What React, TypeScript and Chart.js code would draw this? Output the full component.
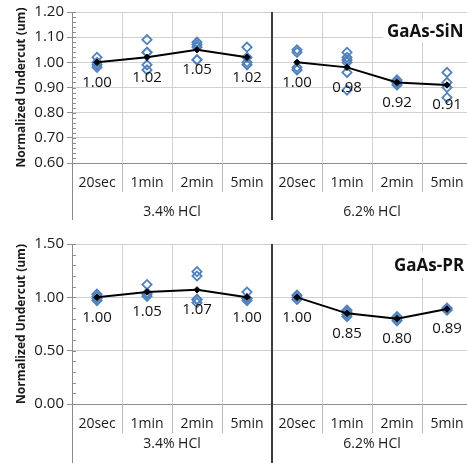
import React, { useEffect, useRef } from 'react';
import { Chart, registerables } from 'chart.js';

Chart.register(...registerables);

const timeLabels = ['20sec', '1min', '2min', '5min', '20sec', '1min', '2min', '5min'];
const groupLabels = ['3.4% HCl', '6.2% HCl'];

const sinTitle = 'GaAs-SiN';
const sinMeans = [1.0, 1.02, 1.05, 1.02, 1.0, 0.98, 0.92, 0.91];
const sinPoints = [
  [1.02, 1.0, 0.99, 0.98],
  [1.09, 1.04, 1.04, 0.99, 0.97],
  [1.08, 1.07, 1.06, 1.01, 1.01],
  [1.06, 1.02, 1.0, 0.99],
  [1.05, 1.04, 0.98, 0.97],
  [1.04, 1.02, 1.01, 1.0, 0.96, 0.89],
  [0.93, 0.92, 0.92, 0.91],
  [0.96, 0.92, 0.9, 0.86],
];
const sinAxis = [0.6, 1.2, 0.1, 0.02];

const prTitle = 'GaAs-PR';
const prMeans = [1.0, 1.05, 1.07, 1.0, 1.0, 0.85, 0.8, 0.89];
const prPoints = [
  [1.03, 1.01, 0.99, 0.97],
  [1.12, 1.04, 1.03, 1.01],
  [1.24, 1.2, 0.98, 0.95, 0.98],
  [1.05, 0.99, 0.97, 0.99],
  [1.02, 1.0, 0.98],
  [0.88, 0.86, 0.82, 0.84],
  [0.82, 0.8, 0.78],
  [0.9, 0.89, 0.88],
];
const prAxis = [0.0, 1.5, 0.5, 0.1];

const FONT = "'Open Sans', 'DejaVu Sans', sans-serif";
const BLUE = '#4f81bd';
const TEXT = '#1a1a1a';

type PanelCfg = {
  title: string;
  means: number[];
  points: number[][];
  axis: number[];
  height: number;
  areaTop: number;
  areaBottom: number;
  groupOffset: number;
  axisExtend: number;
  box: number[];
};

function buildDatasets(means: number[], points: number[][]) {
  const groupA = means.map((v, i) => (i < 4 ? v : null));
  const groupB = means.map((v, i) => (i >= 4 ? v : null));
  const meanStyle = {
    type: 'line' as const,
    borderColor: '#000',
    borderWidth: 2,
    pointStyle: 'rectRot' as const,
    pointRadius: 3.2,
    pointBackgroundColor: '#000',
    pointBorderColor: '#000',
    pointBorderWidth: 1,
    spanGaps: false,
    fill: false,
    tension: 0,
  };
  const ds: any[] = [
    { ...meanStyle, label: 'meanA', data: groupA },
    { ...meanStyle, label: 'meanB', data: groupB },
  ];
  const maxReps = Math.max(...points.map((p) => p.length));
  for (let r = 0; r < maxReps; r++) {
    ds.push({
      type: 'line',
      label: 'rep' + r,
      data: points.map((p) => (p[r] === undefined ? null : p[r])),
      showLine: false,
      pointStyle: 'rectRot',
      pointRadius: 4.6,
      pointBorderWidth: 1.8,
      pointBorderColor: BLUE,
      pointBackgroundColor: 'rgba(255,255,255,0)',
    });
  }
  return ds;
}

function decorPlugin(cfg: PanelCfg) {
  return {
    id: 'decor',
    afterDraw(chart: any) {
      const { ctx, chartArea: ca, scales } = chart;
      const xs = scales.x;
      const ys = scales.y;
      const [min, max, , minor] = cfg.axis;
      ctx.save();
      // minor ticks inside the axis
      ctx.strokeStyle = '#8c8c8c';
      ctx.lineWidth = 1;
      const nMinor = Math.round((max - min) / minor);
      for (let k = 0; k <= nMinor; k++) {
        const py = Math.round(ys.getPixelForValue(min + k * minor)) + 0.5;
        ctx.beginPath();
        ctx.moveTo(ca.left, py);
        ctx.lineTo(ca.left + 4, py);
        ctx.stroke();
      }
      // category boundaries
      const n = timeLabels.length;
      const bounds: number[] = [];
      for (let i = 0; i <= n; i++) {
        if (i === 0) bounds.push(ca.left);
        else if (i === n) bounds.push(ca.right);
        else bounds.push((xs.getPixelForValue(i - 1) + xs.getPixelForValue(i)) / 2);
      }
      ctx.strokeStyle = '#b8b8b8';
      for (let i = 1; i < n; i++) {
        if (i === 4) continue;
        const px = Math.round(bounds[i]) + 0.5;
        ctx.beginPath();
        ctx.moveTo(px, ca.bottom);
        ctx.lineTo(px, ca.bottom + 29);
        ctx.stroke();
      }
      // left axis extension
      ctx.strokeStyle = '#8c8c8c';
      const lx = Math.round(ca.left) + 0.5;
      ctx.beginPath();
      ctx.moveTo(lx, ca.bottom);
      ctx.lineTo(lx, ca.bottom + cfg.axisExtend);
      ctx.stroke();
      // group divider
      ctx.strokeStyle = '#3a3a3a';
      ctx.lineWidth = 2;
      const dx = Math.round(bounds[4]);
      ctx.beginPath();
      ctx.moveTo(dx, ca.top);
      ctx.lineTo(dx, ca.bottom + cfg.axisExtend);
      ctx.stroke();
      // group labels
      ctx.fillStyle = TEXT;
      ctx.font = `14px ${FONT}`;
      ctx.textAlign = 'center';
      ctx.textBaseline = 'middle';
      groupLabels.forEach((g, gi) => {
        const cx = (bounds[gi * 4] + bounds[gi * 4 + 4]) / 2;
        ctx.fillText(g, cx, ca.bottom + cfg.groupOffset);
      });
      // mean value labels
      ctx.font = `15px ${FONT}`;
      ctx.fillStyle = '#111';
      [0, 1].forEach((di) => {
        const meta = chart.getDatasetMeta(di);
        meta.data.forEach((el: any, i: number) => {
          const v = chart.data.datasets[di].data[i];
          if (v === null || v === undefined) return;
          ctx.fillText(Number(v).toFixed(2), el.x, el.y + 20);
        });
      });
      // title box
      const [bx, by, bw, bh] = cfg.box;
      ctx.fillStyle = '#fff';
      ctx.fillRect(bx, by, bw, bh);
      ctx.fillStyle = '#111';
      ctx.font = `bold 17px ${FONT}`;
      ctx.textAlign = 'left';
      ctx.fillText(cfg.title, bx + 4, by + bh / 2 + 1);
      ctx.restore();
    },
  };
}

function Panel({ cfg }: { cfg: PanelCfg }) {
  const ref = useRef<HTMLCanvasElement>(null);
  useEffect(() => {
    if (!ref.current) return;
    const [min, max, step] = cfg.axis;
    const chart = new Chart(ref.current, {
      type: 'line',
      data: { labels: timeLabels, datasets: buildDatasets(cfg.means, cfg.points) },
      options: {
        animation: false,
        responsive: false,
        devicePixelRatio: 1,
        events: [],
        layout: { padding: { top: cfg.areaTop, left: 0, right: 8, bottom: 0 } },
        plugins: { legend: { display: false }, tooltip: { enabled: false } },
        scales: {
          x: {
            type: 'category',
            offset: true,
            grid: { offset: true, color: '#d0d0d0', drawTicks: false },
            border: { color: '#8c8c8c' },
            ticks: {
              font: { family: FONT, size: 14 },
              color: TEXT,
              padding: 12,
              maxRotation: 0,
              autoSkip: false,
            },
            afterFit: (s: any) => {
              s.height = cfg.height - cfg.areaBottom;
            },
          },
          y: {
            min,
            max,
            ticks: {
              stepSize: step,
              font: { family: FONT, size: 15 },
              color: TEXT,
              padding: 3,
              callback: (v: any) => Number(v).toFixed(2),
            },
            grid: { color: '#d0d0d0', tickColor: '#8c8c8c', tickLength: 5 },
            border: { color: '#8c8c8c' },
            title: {
              display: true,
              text: 'Normalized Undercut (um)',
              font: { family: FONT, size: 12, weight: 'bold' },
              color: TEXT,
              padding: { top: 14, bottom: 0 },
            },
            afterFit: (s: any) => {
              s.width = 72;
            },
          },
        },
      },
      plugins: [decorPlugin(cfg)],
    } as any);
    return () => chart.destroy();
  }, [cfg]);
  return <canvas ref={ref} width={480} height={cfg.height} style={{ display: 'block' }} />;
}

const topCfg: PanelCfg = {
  title: sinTitle,
  means: sinMeans,
  points: sinPoints,
  axis: sinAxis,
  height: 226,
  areaTop: 12,
  areaBottom: 163,
  groupOffset: 49,
  axisExtend: 57,
  box: [383, 20, 100, 22],
};

const bottomCfg: PanelCfg = {
  title: prTitle,
  means: prMeans,
  points: prPoints,
  axis: prAxis,
  height: 237,
  areaTop: 18,
  areaBottom: 178,
  groupOffset: 40,
  axisExtend: 60,
  box: [390, 26, 95, 26],
};

export default function App() {
  return (
    <div
      style={{
        position: 'absolute',
        left: 0,
        top: 0,
        width: 467,
        height: 463,
        overflow: 'hidden',
        background: '#fff',
      }}
    >
      <Panel cfg={topCfg} />
      <Panel cfg={bottomCfg} />
    </div>
  );
}
